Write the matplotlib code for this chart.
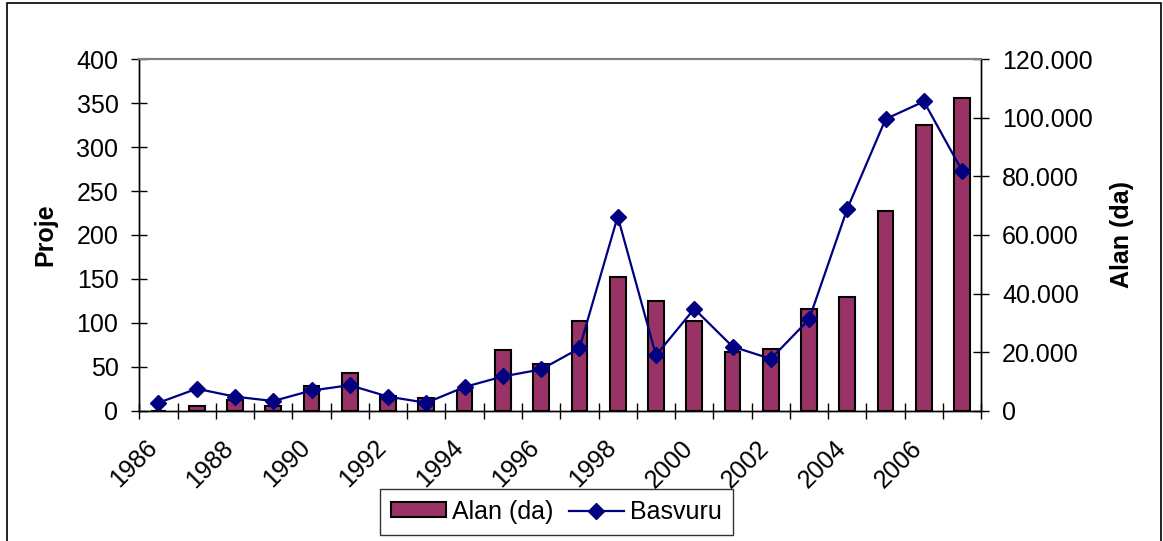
import matplotlib
matplotlib.use("Agg")
import matplotlib.pyplot as plt
from matplotlib.patches import Rectangle, Patch
from matplotlib.lines import Line2D
from matplotlib.ticker import FuncFormatter

plt.rcParams["font.family"] = ["Liberation Sans", "DejaVu Sans"]

# Veriler
yillar = list(range(1986, 2008))
alan_da = [0, 1500, 3750, 1500, 8300, 13000, 4900, 4200, 6900, 20600,
           15900, 30700, 45800, 37500, 30700, 19900, 21200, 34900,
           38900, 68200, 97500, 106900]
basvuru = [9, 25, 16, 11, 23, 29, 16, 9, 27, 39, 47, 71, 221, 63, 116,
           73, 59, 104, 230, 332, 352, 273]

W, H = 1163, 541
fig = plt.figure(figsize=(W / 100, H / 100), dpi=100)
fig.patch.set_facecolor("white")

# Cizim alani (piksel olculeri referanstan)
ax = fig.add_axes([139.3 / W, 1 - 410.7 / H, 842 / W, 351.4 / H])
ax2 = ax.twinx()
ax.set_zorder(ax2.get_zorder() + 1)
ax.patch.set_visible(False)
ax2.patch.set_facecolor("#C0C0C0")

konum = [i + 0.5 for i in range(len(yillar))]

# Alan (da) sutunlari sag eksende
ax2.bar(konum, alan_da, width=0.41, color="#993366", edgecolor="black",
        linewidth=1.5)
ax2.set_ylim(0, 120000)
ax2.set_yticks(range(0, 120001, 20000))
ax2.yaxis.set_major_formatter(
    FuncFormatter(lambda v, p: f"{int(v):,}".replace(",", ".")))
ax2.set_ylabel("Alan (da)", fontsize=18, fontweight="bold", labelpad=12)

# Basvuru cizgisi sol eksende
ax.plot(konum, basvuru, color="#000080", linewidth=1.6, marker="D",
        markersize=8.5, markerfacecolor="#000080", markeredgecolor="#000080")
ax.set_ylim(0, 400)
ax.set_yticks(range(0, 401, 50))
ax.set_ylabel("Proje", fontsize=18, fontweight="bold", labelpad=14)

# x ekseni: cizgiler kategori sinirlarinda, yillar iki yilda bir
ax.set_xlim(0, len(yillar))
ax.set_xticks(range(len(yillar) + 1), minor=True)
cift = [i for i in range(len(yillar)) if (yillar[i] - 1986) % 2 == 0]
ax.set_xticks([i + 0.14 for i in cift])
ax.set_xticklabels([str(yillar[i]) for i in cift], rotation=45,
                   ha="right", va="top", rotation_mode="anchor")

for a in (ax, ax2):
    a.tick_params(axis="y", labelsize=18, direction="inout", length=12,
                  width=1, color="black", pad=9)
    a.spines["top"].set_color("#808080")
    a.spines["top"].set_linewidth(1.5)
    for s in ("left", "right", "bottom"):
        a.spines[s].set_color("black")
        a.spines[s].set_linewidth(1)
ax.tick_params(axis="x", which="major", labelsize=18, length=0, pad=18)
ax.tick_params(axis="x", which="minor", direction="inout", length=12,
               width=1, color="black")
ax2.tick_params(axis="x", which="both", bottom=False, labelbottom=False)

# Gosterge
tutamaclar = [
    Patch(facecolor="#993366", edgecolor="black", linewidth=1.5),
    Line2D([], [], color="#000080", linewidth=1.6, marker="D",
           markersize=8.5),
]
leg = fig.legend(tutamaclar, ["Alan (da)", "Basvuru"], ncol=2,
                 loc="lower left", bbox_to_anchor=(380 / W, 6 / H),
                 fontsize=18, frameon=True, fancybox=False,
                 borderpad=0.45, handlelength=2.2, handleheight=0.55,
                 columnspacing=0.6, handletextpad=0.25, borderaxespad=0)
leg.get_frame().set_edgecolor("black")
leg.get_frame().set_linewidth(1)

# Dis cerceve
fig.patches.append(Rectangle((7 / W, -0.02), 1154 / W, 1.02 - 3 / H,
                             transform=fig.transFigure, fill=False,
                             edgecolor="black", linewidth=1.2))

fig.savefig("out.png", dpi=100)
